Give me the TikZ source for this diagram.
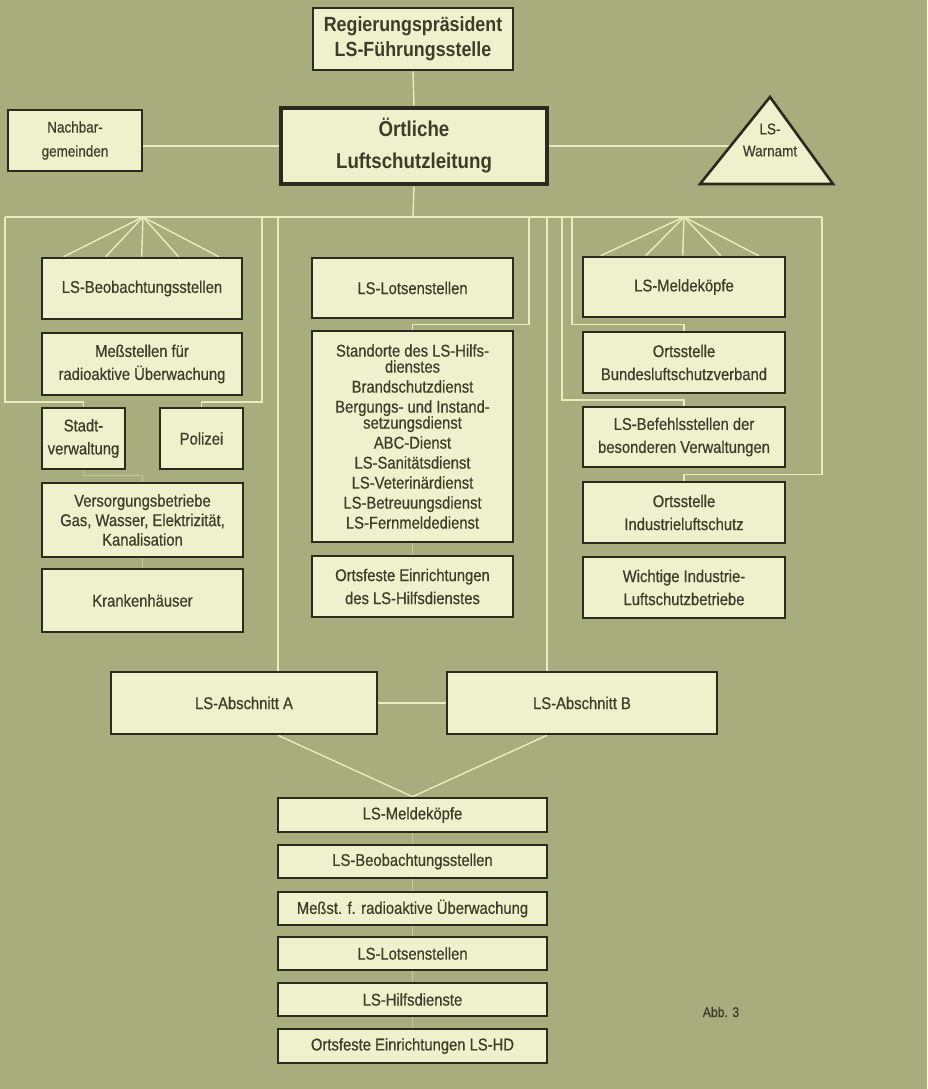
\documentclass[tikz,border=0pt]{standalone}
\usepackage{fontspec}
\setmainfont{Liberation Sans}[FakeStretch=0.87,FakeBold=0.6]
\newfontfamily\headf{Liberation Sans}[FakeStretch=0.87]
\usetikzlibrary{calc}
\definecolor{bgc}{HTML}{A7AD7C}
\definecolor{boxfill}{HTML}{EFF0CC}
\definecolor{boxline}{HTML}{2B2A1F}
\definecolor{connc}{HTML}{E9ECC2}
\definecolor{txt}{HTML}{3E3D2A}
\pgfdeclarelayer{bglayer}
\pgfdeclarelayer{linelayer}
\pgfsetlayers{bglayer,linelayer,main}
\tikzset{
  box/.style={draw=boxline,line width=2.6pt,fill=boxfill,text=txt,align=center,inner sep=0pt,
    font=\fontsize{17}{23}\selectfont},
  headtext/.style={font=\headf\fontsize{20.5}{25}\selectfont\bfseries},
  conn/.style={draw=connc,line width=1.4pt},
  faint/.style={draw=connc,line width=1.2pt,opacity=0.45},
}
\newcommand\Bx[7][]{\node[box,#1,minimum width={(#5-#3)*1pt},minimum height={(#6-#4)*1pt}] (#2) at ({(#3+#5)/2},{(#4+#6)/2}) {#7};}
\begin{document}
\begin{tikzpicture}[x=1pt,y=-1pt]
\begin{pgfonlayer}{bglayer}
\fill[bgc] (0,0) rectangle (927,1089);
\end{pgfonlayer}
\useasboundingbox (0,0) rectangle (927,1089);

% top
\Bx[headtext]{regp}{313}{8}{513}{70}{Regierungspräsident\\LS-Führungsstelle}
\Bx[font=\fontsize{15.5}{24}\selectfont]{nach}{8}{110}{142}{171}{Nachbar-\\gemeinden}
\Bx[line width=4.5pt,font=\headf\fontsize{21.5}{32}\selectfont\bfseries]{oert}{281}{108}{547}{184}{Örtliche\\Luftschutzleitung}
\draw[draw=boxline,line width=2.6pt,fill=boxfill,line join=miter] (770,97) -- (833,184) -- (700,184) -- cycle;
\node[text=txt,align=center,inner sep=0pt,font=\fontsize{15.5}{22}\selectfont] (warn) at (770,140) {LS-\\Warnamt};
\coordinate (warnL) at (730.6,146);

% left column
\Bx{beob}{42}{258}{242}{319}{LS-Beobachtungsstellen}
\Bx{mess}{42}{333}{242}{395}{Meßstellen für\\radioaktive Überwachung}
\Bx{stadt}{42}{408}{125}{469}{Stadt-\\verwaltung}
\Bx{poli}{160}{408}{243}{469}{Polizei}
\Bx[font=\fontsize{17}{19.5}\selectfont]{vers}{42}{483}{243}{557}{Versorgungsbetriebe\\Gas, Wasser, Elektrizität,\\Kanalisation}
\Bx{kran}{42}{569}{243}{632}{Krankenhäuser}

% center column
\Bx{lots}{312}{258}{513}{318}{LS-Lotsenstellen}
\Bx[font=\fontsize{17}{20}\selectfont]{stand}{312}{331}{513}{542}{Standorte des LS-Hilfs-\\[-4pt]dienstes\\Brandschutzdienst\\Bergungs- und Instand-\\[-4pt]setzungsdienst\\ABC-Dienst\\LS-Sanitätsdienst\\LS-Veterinärdienst\\LS-Betreuungsdienst\\LS-Fernmeldedienst}
\Bx{ortsf}{312}{556}{513}{617}{Ortsfeste Einrichtungen\\des LS-Hilfsdienstes}

% right column
\Bx{melde}{583}{257}{785}{317}{LS-Meldeköpfe}
\Bx{blsv}{583}{332}{785}{393}{Ortsstelle\\Bundesluftschutzverband}
\Bx{befe}{583}{407}{785}{467}{LS-Befehlsstellen der\\besonderen Verwaltungen}
\Bx{indu}{583}{482}{785}{543}{Ortsstelle\\Industrieluftschutz}
\Bx{wich}{583}{557}{785}{618}{Wichtige Industrie-\\Luftschutzbetriebe}

% sections
\Bx{absA}{111}{672}{377}{734}{LS-Abschnitt A}
\Bx{absB}{447}{672}{717}{734}{LS-Abschnitt B}

% bottom stack
\Bx{b1}{278}{798}{547}{832}{LS-Meldeköpfe}
\Bx{b2}{278}{845}{547}{878}{LS-Beobachtungsstellen}
\Bx{b3}{278}{892}{547}{925}{Meßst. f. radioaktive Überwachung}
\Bx{b4}{278}{937}{547}{970}{LS-Lotsenstellen}
\Bx{b5}{278}{983}{547}{1016}{LS-Hilfsdienste}
\Bx{b6}{278}{1029}{547}{1063}{Ortsfeste Einrichtungen LS-HD}

\node[text=txt,inner sep=0pt,font=\fontsize{14}{16}\selectfont] (abb) at (721,1012) {Abb. 3};

% connectors
\begin{pgfonlayer}{linelayer}
\coordinate (fL) at (5,217);
\coordinate (fR) at (822,217);
\coordinate (ftop) at (413,217);
\coordinate (lapex) at (143,217);
\coordinate (rapex) at (684,217);
\coordinate (v262) at (262,217);
\coordinate (v278) at (278,217);
\coordinate (v529) at (529,217);
\coordinate (v547) at (547,217);
\coordinate (v562) at (562,217);
\coordinate (v572) at (572,217);

\draw[conn] (regp.south) -- (oert.north);
\draw[conn] (oert.west -| nach.east) -- (oert.west);
\draw[conn] (oert.east) -- (warnL);
\draw[conn] (oert.south) -- (ftop);
\draw[conn] (fL) -- (fR);

\draw[conn] (fL) -- ++(0,185) -| (stadt.north);
\draw[conn] (v262) -- ++(0,185) -| (poli.north);
\foreach \d in {23,65,101,138,178} \draw[conn] (lapex) -- ($(beob.north west)+(\d,0)$);
\foreach \d in {19,64,101,139,177} \draw[conn] (rapex) -- ($(melde.north west)+(\d,0)$);

\draw[conn] (v278) -- (absA.north -| v278);
\draw[conn] (v529) |- ($(lots.south)!0.5!(stand.north)$) -- (stand.north);
\draw[conn] (v547) -- (absB.north -| v547);
\draw[conn] (v572) |- ($(melde.south)!0.5!(blsv.north)$) -- (blsv.north);
\draw[conn] (v562) |- ($(blsv.south)!0.5!(befe.north)$) -- (befe.north);
\draw[conn] (fR) |- ($(befe.south)!0.5!(indu.north)$) -- (indu.north);

\draw[faint] (stadt.south) |- ($(vers.north)+(0,-6)$) -- (vers.north);
\draw[faint] (vers.south) -- (kran.north);
\draw[faint] (stand.south) -- (ortsf.north);
\draw[faint] (b1.south) -- (b6.north);

\draw[conn] (absA.east) -- (absB.west);
\draw[conn] (absA.south -| v278) -- (b1.north);
\draw[conn] (absB.south -| v547) -- (b1.north);
\end{pgfonlayer}
\end{tikzpicture}
\end{document}
